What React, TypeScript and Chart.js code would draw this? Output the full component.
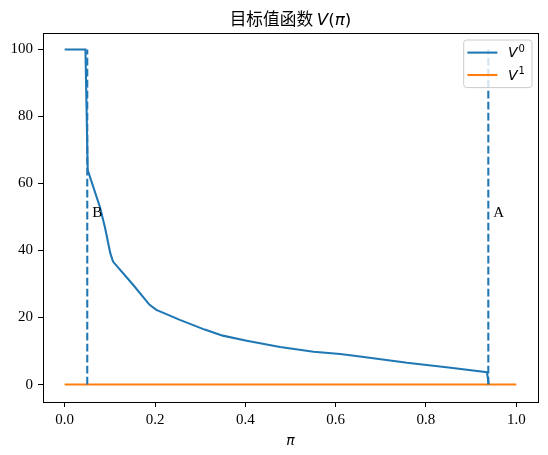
import React, { useEffect, useRef } from "react";
import { Chart, registerables } from "chart.js";

Chart.register(...registerables);

// ---- data ----
const titleCn = "目标值函数 ";
const xAxisLabel = "π";
const piV0 = [0, 0.046, 0.051, 0.078, 0.089, 0.101, 0.107, 0.15, 0.188, 0.203, 0.255, 0.31, 0.35, 0.403, 0.477, 0.551, 0.61, 0.654, 0.758, 0.85, 0.935, 0.939];
const v0Values = [100, 100, 64, 53, 47, 39.2, 36.7, 30, 23.8, 22.3, 19.3, 16.4, 14.6, 13.1, 11.2, 9.8, 9.1, 8.4, 6.5, 5.1, 3.7, 0];
const piV1 = [0, 1];
const v1Values = [0, 0];
const markerX = [0.05, 0.938];
const markerLabels = ["B", "A"];
const markerRange = [0, 100];
const labelOffset = 0.011;
const labelY = 50;
const xTicks = [0, 0.2, 0.4, 0.6, 0.8, 1.0];
const yTicks = [0, 20, 40, 60, 80, 100];
const legendSup = ["0", "1"];

const BLUE = "#1f77b4";
const ORANGE = "#ff7f0e";
const LW = 2.08;

const overlay = {
  id: "overlay",
  afterDraw(chart: any) {
    const { ctx, chartArea: ca, scales } = chart;
    const xs = scales.x;
    const ys = scales.y;
    ctx.save();
    // marker labels
    ctx.fillStyle = "#000";
    ctx.font = '15px "Liberation Serif"';
    ctx.textAlign = "left";
    ctx.textBaseline = "alphabetic";
    markerX.forEach((mx, i) => {
      ctx.fillText(markerLabels[i], xs.getPixelForValue(mx + labelOffset), ys.getPixelForValue(labelY));
    });
    // frame
    ctx.strokeStyle = "#000";
    ctx.lineWidth = 1;
    const l = Math.round(ca.left) + 0.5;
    const r = Math.round(ca.right) + 0.5;
    const t = Math.round(ca.top) + 0.5;
    const b = Math.round(ca.bottom) + 0.5;
    ctx.strokeRect(l, t, r - l, b - t);

    // legend
    const items = chart.data.datasets.filter((d: any) => d.inLegend);
    const boxW = 68.3;
    const boxH = 47.6;
    const bx = ca.right - 6 - boxW;
    const by = ca.top + 7;
    ctx.beginPath();
    if (ctx.roundRect) ctx.roundRect(bx, by, boxW, boxH, 3);
    else ctx.rect(bx, by, boxW, boxH);
    ctx.fillStyle = "rgba(255,255,255,0.8)";
    ctx.fill();
    ctx.strokeStyle = "#cccccc";
    ctx.lineWidth = 1;
    ctx.stroke();
    items.forEach((d: any, i: number) => {
      const ly = by + 12.6 + i * 22.4;
      ctx.beginPath();
      ctx.moveTo(bx + 3.7, ly);
      ctx.lineTo(bx + 33.7, ly);
      ctx.strokeStyle = d.borderColor;
      ctx.lineWidth = LW;
      ctx.stroke();
      ctx.fillStyle = "#000";
      ctx.font = 'italic 14px "DejaVu Sans"';
      ctx.textAlign = "left";
      const tx = bx + 44.3;
      const base = ly + 4.6;
      ctx.fillText(d.label, tx, base);
      const w = ctx.measureText(d.label).width;
      ctx.font = '10px "DejaVu Sans"';
      ctx.fillText(legendSup[i], tx + w + 1, base - 5.5);
    });

    // title with mixed fonts
    const tSize = 16.7;
    const parts = [
      { t: titleCn, f: `${tSize}px "Noto Sans CJK SC"` },
      { t: "V", f: `italic ${tSize}px "DejaVu Sans"` },
      { t: "(", f: `${tSize}px "DejaVu Sans"` },
      { t: "π", f: `italic ${tSize}px "DejaVu Sans"` },
      { t: ")", f: `${tSize}px "DejaVu Sans"` },
    ];
    let total = 0;
    const widths = parts.map((p) => {
      ctx.font = p.f;
      const w = ctx.measureText(p.t).width;
      total += w;
      return w;
    });
    let x = (ca.left + ca.right) / 2 - total / 2;
    ctx.fillStyle = "#000";
    ctx.textAlign = "left";
    parts.forEach((p, i) => {
      ctx.font = p.f;
      ctx.fillText(p.t, x, 24.5);
      x += widths[i];
    });

    // x axis label
    ctx.font = 'italic 14px "DejaVu Sans"';
    ctx.textAlign = "center";
    ctx.fillText(xAxisLabel, (ca.left + ca.right) / 2, 445);
    ctx.restore();
  },
};

export default function App() {
  const ref = useRef<HTMLCanvasElement | null>(null);
  useEffect(() => {
    if (!ref.current) return;
    const datasets: any[] = [
      {
        label: "V",
        inLegend: true,
        data: piV0.map((x, i) => ({ x, y: v0Values[i] })),
        borderColor: BLUE,
        borderWidth: LW,
        showLine: true,
        pointRadius: 0,
        tension: 0,
        order: 3,
      },
      {
        label: "V",
        inLegend: true,
        data: piV1.map((x, i) => ({ x, y: v1Values[i] })),
        borderColor: ORANGE,
        borderWidth: LW,
        showLine: true,
        pointRadius: 0,
        tension: 0,
        order: 2,
      },
      ...markerX.map((mx) => ({
        label: "marker",
        inLegend: false,
        data: markerRange.map((y) => ({ x: mx, y })),
        borderColor: BLUE,
        borderWidth: LW,
        borderDash: [7.7, 3.3],
        showLine: true,
        pointRadius: 0,
        order: 1,
      })),
    ];
    const tickFont = { family: "Liberation Serif", size: 15 };
    const chart = new Chart(ref.current, {
      type: "scatter",
      data: { datasets },
      options: {
        animation: false,
        responsive: false,
        events: [],
        layout: { padding: { top: 33, right: 10, bottom: 0, left: 0 } },
        plugins: { legend: { display: false }, title: { display: false }, tooltip: { enabled: false } },
        scales: {
          x: {
            type: "linear",
            min: -0.048,
            max: 1.048,
            afterFit: (s: any) => {
              s.height = 53;
            },
            afterBuildTicks: (s: any) => {
              s.ticks = xTicks.map((v) => ({ value: v }));
            },
            ticks: {
              font: tickFont,
              color: "#000",
              padding: 4,
              maxRotation: 0,
              callback: (v: any) => Number(v).toFixed(1),
            },
            grid: { display: true, drawOnChartArea: false, drawTicks: true, tickLength: 5, color: "#000", lineWidth: 1 },
            border: { display: false },
          },
          y: {
            type: "linear",
            min: -5.2,
            max: 104.9,
            afterFit: (s: any) => {
              s.width = 43;
            },
            afterBuildTicks: (s: any) => {
              s.ticks = yTicks.map((v) => ({ value: v }));
            },
            ticks: {
              font: tickFont,
              color: "#000",
              padding: 5,
              callback: (v: any) => String(v),
            },
            grid: { display: true, drawOnChartArea: false, drawTicks: true, tickLength: 5, color: "#000", lineWidth: 1 },
            border: { display: false },
          },
        },
      } as any,
      plugins: [overlay],
    });
    return () => chart.destroy();
  }, []);
  return (
    <div style={{ position: "absolute", left: 0, top: 0, width: 548, height: 455, background: "#fff" }}>
      <canvas ref={ref} width={548} height={455} style={{ display: "block", width: 548, height: 455 }} />
    </div>
  );
}
